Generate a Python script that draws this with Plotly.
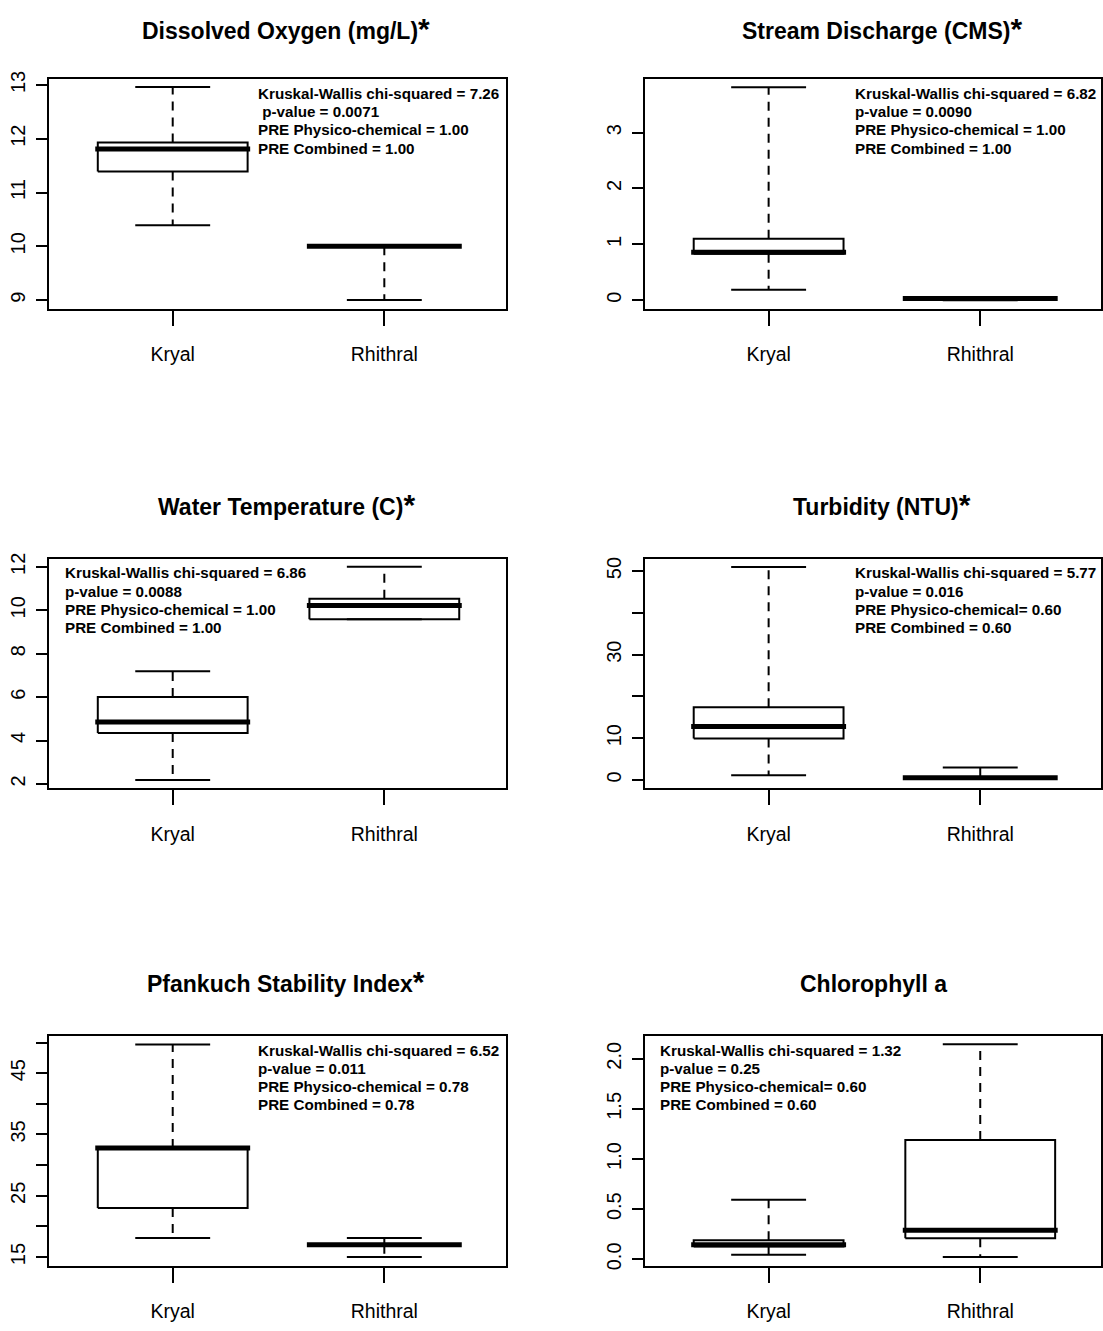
import plotly.graph_objects as go

groups = ["Kryal", "Rhithral"]

# Five-number summaries per group: lower whisker, Q1, median, Q3, upper whisker
oxygen_kryal = [10.39, 11.39, 11.81, 11.93, 12.96]
oxygen_rhithral = [9.0, 10.0, 10.0, 10.0, 10.0]
discharge_kryal = [0.19, 0.83, 0.86, 1.10, 3.81]
discharge_rhithral = [0.0, 0.02, 0.03, 0.04, 0.06]
temperature_kryal = [2.18, 4.35, 4.85, 6.0, 7.19]
temperature_rhithral = [9.59, 9.59, 10.22, 10.53, 12.0]
turbidity_kryal = [1.1, 9.9, 12.8, 17.4, 51.0]
turbidity_rhithral = [0.2, 0.3, 0.5, 0.7, 3.0]
pfankuch_kryal = [18.1, 23.0, 32.8, 32.8, 49.7]
pfankuch_rhithral = [15.0, 17.0, 17.0, 17.0, 18.1]
chlorophyll_kryal = [0.046, 0.128, 0.146, 0.19, 0.595]
chlorophyll_rhithral = [0.023, 0.21, 0.29, 1.19, 2.145]

# Y-axis ticks and their labels
oxygen_ticks = [9, 10, 11, 12, 13]
oxygen_labels = ["9", "10", "11", "12", "13"]
discharge_ticks = [0, 1, 2, 3]
discharge_labels = ["0", "1", "2", "3"]
temperature_ticks = [2, 4, 6, 8, 10, 12]
temperature_labels = ["2", "4", "6", "8", "10", "12"]
turbidity_ticks = [0, 10, 20, 30, 40, 50]
turbidity_labels = ["0", "10", "", "30", "", "50"]
pfankuch_ticks = [15, 20, 25, 30, 35, 40, 45, 50]
pfankuch_labels = ["15", "", "25", "", "35", "", "45", ""]
chlorophyll_ticks = [0.0, 0.5, 1.0, 1.5, 2.0]
chlorophyll_labels = ["0.0", "0.5", "1.0", "1.5", "2.0"]

# Test statistics printed inside each panel
oxygen_stats = ["Kruskal-Wallis chi-squared = 7.26", "\u00a0p-value = 0.0071",
                "PRE Physico-chemical = 1.00", "PRE Combined = 1.00"]
discharge_stats = ["Kruskal-Wallis chi-squared = 6.82", "p-value = 0.0090",
                   "PRE Physico-chemical = 1.00", "PRE Combined = 1.00"]
temperature_stats = ["Kruskal-Wallis chi-squared = 6.86", "p-value = 0.0088",
                     "PRE Physico-chemical = 1.00", "PRE Combined = 1.00"]
turbidity_stats = ["Kruskal-Wallis chi-squared = 5.77", "p-value = 0.016",
                   "PRE Physico-chemical= 0.60", "PRE Combined = 0.60"]
pfankuch_stats = ["Kruskal-Wallis chi-squared = 6.52", "p-value = 0.011",
                  "PRE Physico-chemical = 0.78", "PRE Combined = 0.78"]
chlorophyll_stats = ["Kruskal-Wallis chi-squared = 1.32", "p-value = 0.25",
                     "PRE Physico-chemical= 0.60", "PRE Combined = 0.60"]

W, H = 1103, 1331
FONT = "Liberation Sans, Arial, Helvetica, sans-serif"

# Plot-region pixel boxes: (left, right) per column, (top, bottom) per row
cols = [(49, 507), (646, 1103)]
rows = [(72, 304), (556, 788), (1038, 1270)]
title_centres = [22.5, 503.5, 985.5]

panels = [
    dict(title="Dissolved Oxygen (mg/L)", star=True, data=(oxygen_kryal, oxygen_rhithral),
         ticks=oxygen_ticks, labels=oxygen_labels, yrange=[8.834, 13.105],
         stats=oxygen_stats, stat_x=256, col=0, row=0),
    dict(title="Stream Discharge (CMS)", star=True, data=(discharge_kryal, discharge_rhithral),
         ticks=discharge_ticks, labels=discharge_labels, yrange=[-0.157, 3.953],
         stats=discharge_stats, stat_x=855, col=1, row=0),
    dict(title="Water Temperature (C)", star=True, data=(temperature_kryal, temperature_rhithral),
         ticks=temperature_ticks, labels=temperature_labels, yrange=[1.80, 12.38],
         stats=temperature_stats, stat_x=63, col=0, row=1),
    dict(title="Turbidity (NTU)", star=True, data=(turbidity_kryal, turbidity_rhithral),
         ticks=turbidity_ticks, labels=turbidity_labels, yrange=[-2.0, 53.0],
         stats=turbidity_stats, stat_x=855, col=1, row=1),
    dict(title="Pfankuch Stability Index", star=True, data=(pfankuch_kryal, pfankuch_rhithral),
         ticks=pfankuch_ticks, labels=pfankuch_labels, yrange=[13.6, 51.1],
         stats=pfankuch_stats, stat_x=256, col=0, row=2),
    dict(title="Chlorophyll a", star=False, data=(chlorophyll_kryal, chlorophyll_rhithral),
         ticks=chlorophyll_ticks, labels=chlorophyll_labels, yrange=[-0.062, 2.228],
         stats=chlorophyll_stats, stat_x=659, col=1, row=2),
]

BOX_HALF = 0.354
STAPLE_HALF = 0.177
MEDIAN_HALF = 0.366


def px_x(p):
    return p / W


def px_y(p):
    return 1 - p / H


def add_box(fig, xa, ya, pos, summary):
    lo, q1, med, q3, hi = summary
    common = dict(mode="lines", xaxis=xa, yaxis=ya, hoverinfo="skip", showlegend=False)
    # dashed whiskers
    fig.add_trace(go.Scatter(x=[pos, pos, None, pos, pos], y=[q3, hi, None, q1, lo],
                             line=dict(color="black", width=2, dash="9px,7px"), **common))
    # staples at whisker ends
    fig.add_trace(go.Scatter(x=[pos - STAPLE_HALF, pos + STAPLE_HALF, None,
                                pos - STAPLE_HALF, pos + STAPLE_HALF],
                             y=[hi, hi, None, lo, lo],
                             line=dict(color="black", width=2), **common))
    # interquartile box
    fig.add_trace(go.Scatter(x=[pos - BOX_HALF, pos + BOX_HALF, pos + BOX_HALF,
                                pos - BOX_HALF, pos - BOX_HALF],
                             y=[q1, q1, q3, q3, q1],
                             line=dict(color="black", width=2), **common))
    # heavy median bar
    fig.add_trace(go.Scatter(x=[pos - MEDIAN_HALF, pos + MEDIAN_HALF], y=[med, med],
                             line=dict(color="black", width=5), **common))


fig = go.Figure()
layout = dict(width=W, height=H, margin=dict(l=0, r=0, t=0, b=0),
              paper_bgcolor="white", plot_bgcolor="white", showlegend=False,
              font=dict(family=FONT, color="black"))
annotations = []

for i, p in enumerate(panels, start=1):
    left, right = cols[p["col"]]
    top, bottom = rows[p["row"]]
    xa, ya = f"x{i}", f"y{i}"
    xkey = "xaxis" if i == 1 else f"xaxis{i}"
    ykey = "yaxis" if i == 1 else f"yaxis{i}"

    layout[xkey] = dict(domain=[px_x(left), px_x(right)], anchor=ya,
                        range=[0.415, 0.415 + (right - left) / 212.0],
                        tickvals=[1, 2], ticktext=groups, ticks="outside",
                        ticklen=15, tickwidth=2, tickcolor="black",
                        showline=True, mirror=True, linewidth=2, linecolor="black",
                        showgrid=False, zeroline=False, fixedrange=True,
                        tickfont=dict(size=19.5, family=FONT, color="black"),
                        ticklabelstandoff=12)
    layout[ykey] = dict(domain=[px_y(bottom), px_y(top)], anchor=xa,
                        range=p["yrange"], tickvals=p["ticks"], ticktext=p["labels"],
                        tickangle=-90, ticks="outside", ticklen=11, tickwidth=2,
                        tickcolor="black", showline=True, mirror=True, linewidth=2,
                        linecolor="black", showgrid=False, zeroline=False,
                        fixedrange=True, tickfont=dict(size=20, family=FONT, color="black"),
                        ticklabelstandoff=3)

    for pos, summary in zip([1, 2], p["data"]):
        add_box(fig, xa, ya, pos, summary)

    # panel title, centred over the plot region; a large asterisk flags significance
    centre = (left + right) / 2
    cap_centre = title_centres[p["row"]]
    if p["star"]:
        text = f"<b>{p['title']}</b><span style='font-size:30px'><b>*</b></span>"
        cx = centre + 9
        ty = cap_centre - 2.2
    else:
        text = f"<b>{p['title']}</b>"
        cx = centre + 1
        ty = cap_centre
    annotations.append(dict(text=text, x=px_x(cx), y=px_y(ty), xref="paper", yref="paper",
                            xanchor="center", yanchor="middle", showarrow=False,
                            font=dict(size=23, family=FONT, color="black")))

    # statistics block
    for k, line in enumerate(p["stats"]):
        annotations.append(dict(text=f"<b>{line}</b>", x=px_x(p["stat_x"]),
                                y=px_y(top + 14.5 + 18.3 * k), xref="paper", yref="paper",
                                xanchor="left", yanchor="middle", showarrow=False,
                                font=dict(size=15.2, family=FONT, color="black")))

layout["annotations"] = annotations
fig.update_layout(**layout)
fig.write_html("out.html")
